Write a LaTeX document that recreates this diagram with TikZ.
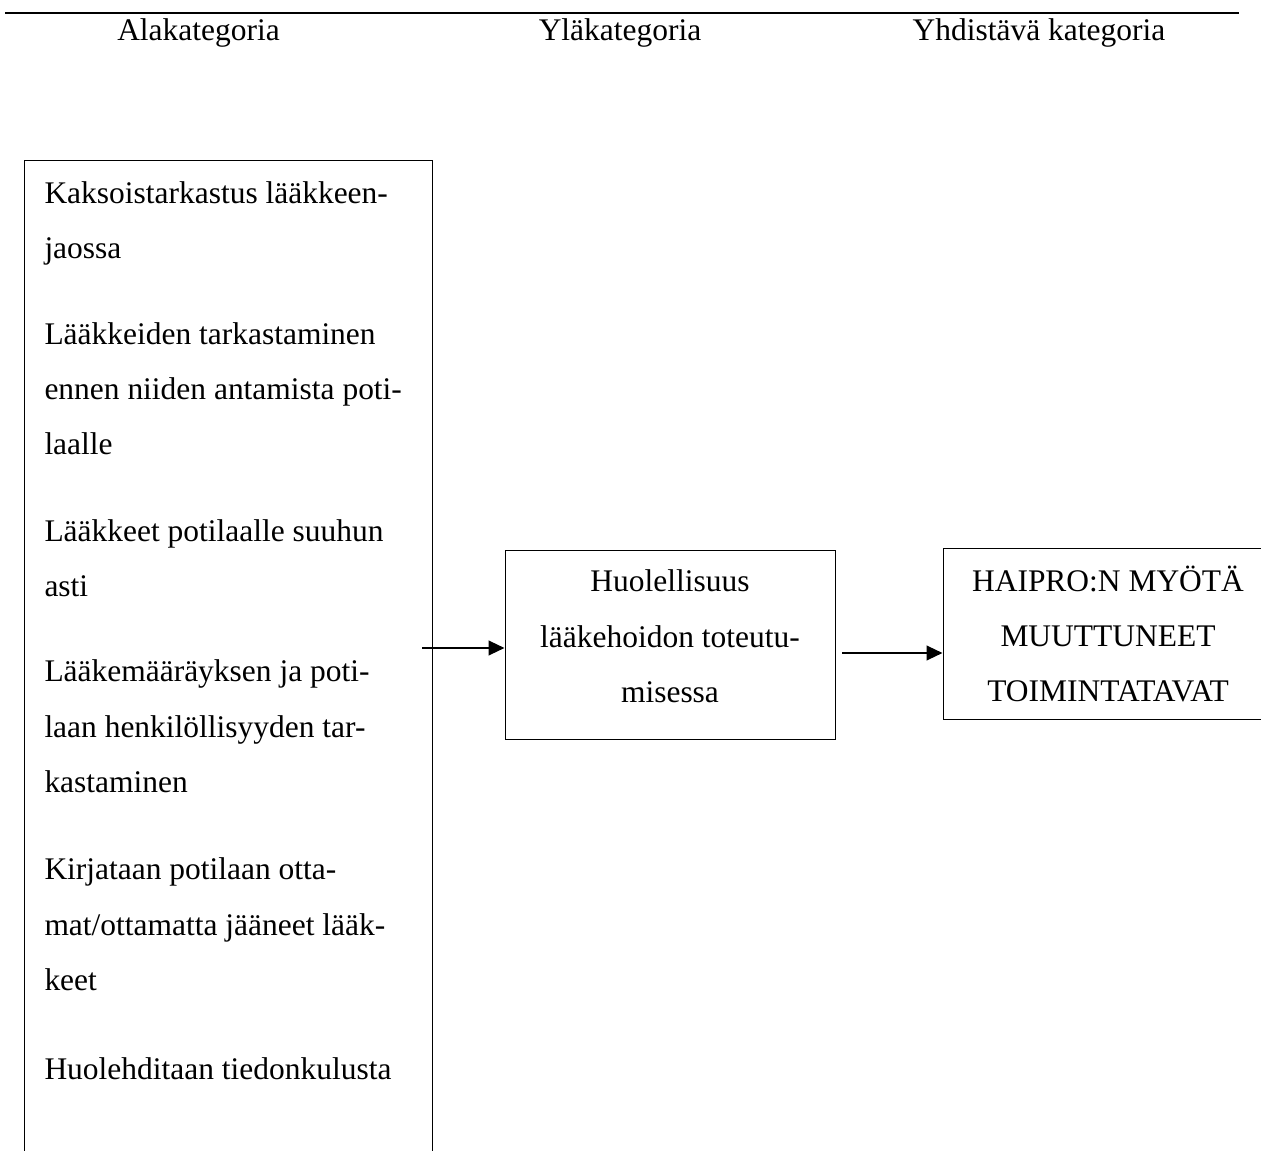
\documentclass[tikz,border=0pt]{standalone}
\usepackage{fontspec}
\setmainfont{Liberation Serif}
\usetikzlibrary{arrows.meta}

\tikzset{every picture/.style={line width=0.75pt}}
\tikzset{
  txt/.style={inner sep=0pt, font=\fontsize{23.6}{41.5}\selectfont},
  box/.style={draw, inner sep=0pt, align=center, font=\fontsize{23.6}{41.5}\selectfont},
  arr/.style={line width=1.6pt, -{Triangle[length=12pt,width=11pt]}}
}

\begin{document}
\begin{tikzpicture}[x=0.75pt,y=0.75pt,yscale=-1,xscale=1]
\useasboundingbox (0,0) rectangle (1261,1151);
\clip (0,0) rectangle (1261,1151);

%Straight Lines (top rule)
\draw [line width=1.6pt] (5,13) -- (1239,13) ;

% Text Node
\node [txt, anchor=base] (hala) at (198.5,41) {Alakategoria};
% Text Node
\node [txt, anchor=base] (hyla) at (620,41) {Yläkategoria};
% Text Node
\node [txt, anchor=base] (hyhd) at (1039,41) {Yhdistävä kategoria};

%Shape: open box
\draw (24,1170) -- (24,161) -- (432,161) -- (432,1170) ;

% Text Node
\node [txt, anchor=north west, align=left] (ala1) at (44,181) {Kaksoistarkastus lääkkeen-\\jaossa};
% Text Node
\node [txt, anchor=north west, align=left] (ala2) at (44,322) {Lääkkeiden tarkastaminen\\ennen niiden antamista poti-\\laalle};
% Text Node
\node [txt, anchor=north west, align=left] (ala3) at (44,519) {Lääkkeet potilaalle suuhun\\asti};
% Text Node
\node [txt, anchor=north west, align=left] (ala4) at (44,659.5) {Lääkemääräyksen ja poti-\\laan henkilöllisyyden tar-\\kastaminen};
% Text Node
\node [txt, anchor=north west, align=left] (ala5) at (44,857.5) {Kirjataan potilaan otta-\\mat/ottamatta jääneet lääk-\\keet};
% Text Node
\node [txt, anchor=north west, align=left] (ala6) at (44,1057.5) {Huolehditaan tiedonkulusta};

%Shape: Rectangle
\node [box, minimum width=247.5pt, minimum height=141pt, text depth=13pt] (yla) at (670,645) {Huolellisuus\\lääkehoidon toteutu-\\misessa};
%Shape: Rectangle
\node [box, minimum width=247.5pt, minimum height=127.5pt] (yhd) at (1108,634) {HAIPRO:N MYÖTÄ\\MUUTTUNEET\\TOIMINTATAVAT};

%Straight Lines
\coordinate (a1) at (422,648);
\draw [arr] (a1) -- (a1 -| yla.west) ;
%Straight Lines
\coordinate (a2) at (842,653);
\draw [arr] (a2) -- (a2 -| yhd.west) ;

\end{tikzpicture}
\end{document}
